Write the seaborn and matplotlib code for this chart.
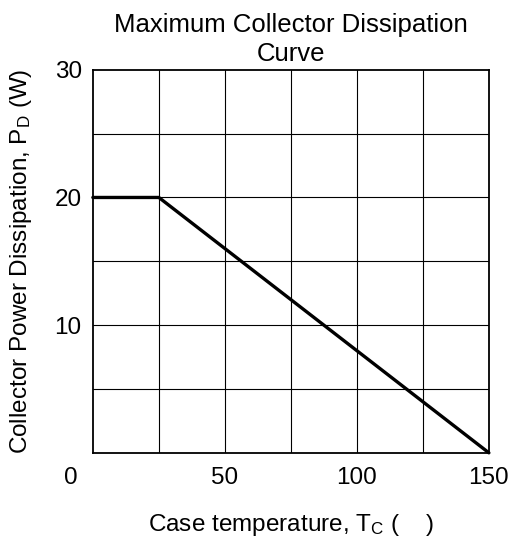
import matplotlib
matplotlib.use("Agg")
import matplotlib.pyplot as plt
import seaborn as sns
import pandas as pd

# Derating curve: flat up to the knee, then linear to zero
case_temp = [0, 25, 150]
power_w = [20, 20, 0]

x_ticks = [50, 100, 150]
y_ticks = [10, 20, 30]
x_grid = [25, 50, 75, 100, 125]
y_grid = [5, 10, 15, 20, 25]

sns.set_theme(style="white")
plt.rcParams["font.family"] = ["Liberation Sans", "DejaVu Sans"]
plt.rcParams["mathtext.fontset"] = "custom"
plt.rcParams["mathtext.rm"] = "Liberation Sans"
plt.rcParams["mathtext.it"] = "Liberation Sans"

FS = 17.5
df = pd.DataFrame({"Tc": case_temp, "Pd": power_w})

fig = plt.figure(figsize=(5.13, 5.41), dpi=100)
ax = fig.add_axes([0.181, 0.163, 0.772, 0.708])

for gx in x_grid:
    ax.axvline(gx, color="black", lw=0.8, zorder=1)
for gy in y_grid:
    ax.axhline(gy, color="black", lw=0.8, zorder=1)

sns.lineplot(data=df, x="Tc", y="Pd", color="black", lw=2.4, ax=ax,
             zorder=3, clip_on=False)

ax.set_xlim(0, 150)
ax.set_ylim(0, 30)
ax.set_xticks(x_ticks)
ax.set_yticks(y_ticks)
ax.tick_params(axis="both", length=0, labelsize=FS, colors="black")
ax.tick_params(axis="x", pad=10)
ax.tick_params(axis="y", pad=8)
ax.text(-0.055, -0.036, "0", transform=ax.transAxes, ha="center", va="top",
        fontsize=FS, color="black")

for s in ax.spines.values():
    s.set_visible(True)
    s.set_color("black")
    s.set_linewidth(1.3)

ax.set_title("Maximum Collector Dissipation\nCurve", fontsize=18.5,
             color="black", pad=6, linespacing=1.3)
ax.set_xlabel(r"Case temperature, T$_\mathregular{C}$ (    )", fontsize=FS,
              color="black", labelpad=17)
ax.set_ylabel(r"Collector Power Dissipation, P$_\mathregular{D}$ (W)",
              fontsize=FS, color="black", labelpad=15)

fig.savefig("out.png", dpi=100)
